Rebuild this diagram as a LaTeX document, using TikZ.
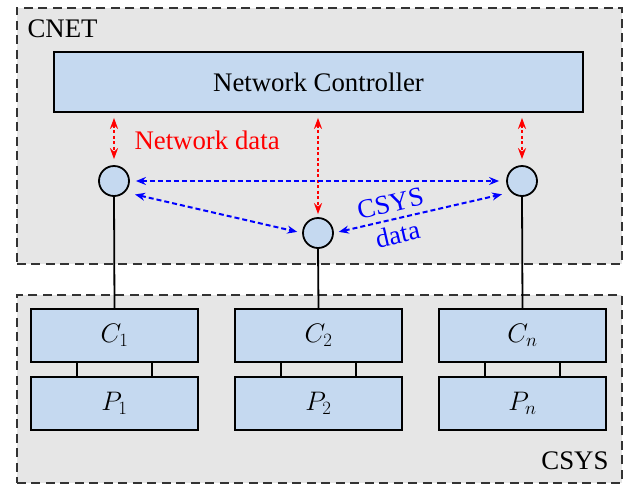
\RequirePackage{fix-cm}
\documentclass[tikz,border=0pt]{standalone}
\usepackage{fontspec}
\setmainfont{Liberation Serif}
\usetikzlibrary{arrows.meta}
\definecolor{boxblue}{RGB}{197,217,240}
\definecolor{areagray}{RGB}{230,230,230}
\begin{document}
\begin{tikzpicture}[x=1pt,y=-1pt,
  font=\fontsize{26.8pt}{31pt}\selectfont,
  area/.style={draw=black!80, fill=areagray, line width=1.8pt, dash pattern=on 9pt off 5.5pt, inner sep=0pt, anchor=north west},
  blockbox/.style={draw=black, fill=boxblue, line width=1.8pt, minimum width=167pt, minimum height=53pt, inner sep=0pt},
  agent/.style={circle, draw=black, fill=boxblue, line width=1.8pt, minimum size=30pt, inner sep=0pt},
  link/.style={draw=black, line width=1.8pt},
  netarrow/.style={red, line width=2pt, dash pattern=on 3pt off 2.5pt, {Stealth[length=11pt,width=8pt]}-{Stealth[length=11pt,width=8pt]}},
  sysarrow/.style={blue, line width=2pt, dash pattern=on 5pt off 3pt, {Stealth[length=10pt,width=8pt]}-{Stealth[length=10pt,width=8pt]}}]
\useasboundingbox (0,0) rectangle (631,485);

% areas
\node[area, minimum width=605pt, minimum height=256pt] (cnet) at (16,7) {};
\node[area, minimum width=605pt, minimum height=188pt] (csys) at (16,294) {};
\node[anchor=base west] (cnetlabel) at (24,37) {CNET};
\node[anchor=base east] (csyslabel) at (612,469) {CSYS};

% controller and agents
\node[blockbox, minimum width=529pt, minimum height=60pt] (nc) at (318.5,82) {Network Controller};
\node[agent] (a1) at (114,181) {};
\node[agent] (a2) at (318,233) {};
\node[agent] (a3) at (522,181) {};

% subsystems
\node[blockbox] (C1) at (114.5,335.5) {$C_1$};
\node[blockbox] (P1) at (114.5,403.5) {$P_1$};
\node[blockbox] (C2) at (318.5,335.5) {$C_2$};
\node[blockbox] (P2) at (318.5,403.5) {$P_2$};
\node[blockbox] (Cn) at (522.5,335.5) {$C_n$};
\node[blockbox] (Pn) at (522.5,403.5) {$P_n$};

% solid links
\draw[link] (a1.south) -- (C1.north);
\draw[link] (a2.south) -- (C2.north);
\draw[link] (a3.south) -- (Cn.north);
\foreach \n in {1,2,n}{
  \draw[link] ([xshift=-37.5pt]C\n.south) -- ([xshift=-37.5pt]P\n.north);
  \draw[link] ([xshift=37.5pt]C\n.south) -- ([xshift=37.5pt]P\n.north);
}

% network data arrows
\draw[netarrow, shorten <=5pt, shorten >=6pt] (nc.south -| a1) -- (a1.north);
\draw[netarrow, shorten <=5pt, shorten >=3pt] (nc.south -| a2) -- (a2.north);
\draw[netarrow, shorten <=5pt, shorten >=6pt] (nc.south -| a3) -- (a3.north);
\node[red, anchor=base west] (netdata) at (131,149) {Network data};

% CSYS data arrows
\draw[sysarrow, shorten <=6pt, shorten >=7pt] (a1.east) -- (a3.west);
\draw[sysarrow, shorten <=10pt, shorten >=5pt] (a1.-45) -- (a2.west);
\draw[sysarrow, shorten <=5pt, shorten >=9pt] (a2.east) -- node[sloped, pos=0.34, align=center, text=blue, font=\fontsize{26.8pt}{32pt}\selectfont] (csysdata) {CSYS\\data} (a3.-135);
\end{tikzpicture}
\end{document}
